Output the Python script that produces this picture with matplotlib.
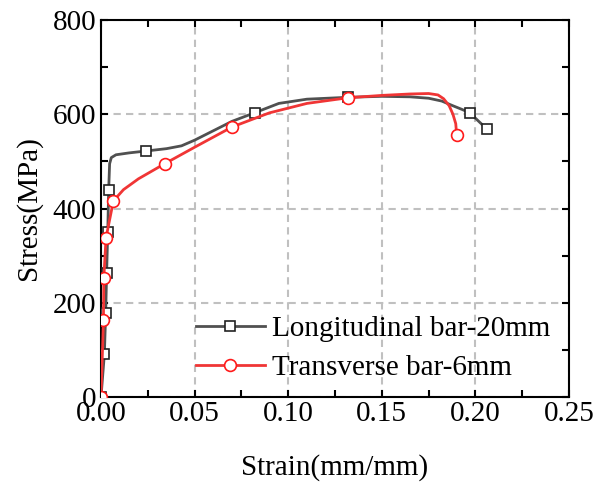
import matplotlib
matplotlib.use('Agg')
import matplotlib.pyplot as plt
from matplotlib.ticker import MultipleLocator

plt.rcParams['font.family'] = ['Liberation Serif', 'DejaVu Serif']

# longitudinal bar (gray, squares)
long_strain = [0, 0.0018, 0.0025, 0.0030, 0.0036, 0.0041, 0.0046, 0.0055, 0.008, 0.015,
               0.024, 0.035, 0.043, 0.050, 0.060, 0.070, 0.082, 0.095, 0.110, 0.132,
               0.150, 0.165, 0.175, 0.182, 0.188, 0.193, 0.197, 0.206]
long_stress = [0, 91, 178, 263, 350, 440, 495, 508, 514, 518,
               522, 527, 533, 545, 565, 585, 603, 623, 632, 636,
               638, 637, 634, 628, 618, 610, 603, 569]
long_marks = [0, 1, 2, 3, 4, 5, 10, 16, 19, 26, 27]

# transverse bar (red, circles)
trans_strain = [0, 0.0013, 0.0015, 0.0027, 0.0066, 0.012, 0.020, 0.034, 0.050, 0.070,
                0.090, 0.110, 0.132, 0.150, 0.165, 0.175, 0.180, 0.183, 0.186, 0.188,
                0.1895, 0.190]
trans_stress = [0, 163, 253, 338, 416, 440, 463, 495, 530, 573,
                603, 623, 635, 640, 643, 644, 641, 633, 618, 600,
                580, 556]
trans_marks = [0, 1, 2, 3, 4, 7, 9, 12, 21]

fig = plt.figure(figsize=(6.07, 4.83), dpi=100)
ax = fig.add_axes([0.1664, 0.178, 0.771, 0.7806])

ax.plot(long_strain, long_stress, color='#505050', lw=2, marker='s', markersize=7.2,
        markerfacecolor='white', markeredgecolor='#222222', markeredgewidth=1.2,
        markevery=long_marks, label='Longitudinal bar-20mm', zorder=3)
ax.plot(trans_strain, trans_stress, color='#f03535', lw=2, marker='o', markersize=8.5,
        markerfacecolor='white', markeredgecolor='#ff1a1a', markeredgewidth=1.2,
        markevery=trans_marks, label='Transverse bar-6mm', zorder=4)

ax.set_xlim(0, 0.25)
ax.set_ylim(0, 800)
ax.xaxis.set_major_locator(MultipleLocator(0.05))
ax.xaxis.set_minor_locator(MultipleLocator(0.025))
ax.yaxis.set_major_locator(MultipleLocator(200))
ax.yaxis.set_minor_locator(MultipleLocator(100))
ax.xaxis.set_major_formatter(plt.FuncFormatter(lambda v, p: f'{v:.2f}'))

ax.grid(True, which='major', color='#c0c0c0', linestyle=(0, (3.5, 2.5)), lw=1.5)
ax.set_axisbelow(True)

ax.tick_params(which='both', direction='in', top=True, right=True, labelsize=21,
               width=1.5, length=5)
ax.tick_params(axis='x', pad=3)
for s in ax.spines.values():
    s.set_linewidth(1.5)

ax.set_xlabel('Strain(mm/mm)', fontsize=21, labelpad=19)
ax.set_ylabel('Stress(MPa)', fontsize=21, labelpad=7.5)

ax.legend(loc='lower left', bbox_to_anchor=(0.172, 0.004), frameon=False, fontsize=21,
          handlelength=2.35, handletextpad=0.25, borderpad=0, labelspacing=0.42)

fig.savefig('out.png', dpi=100)
